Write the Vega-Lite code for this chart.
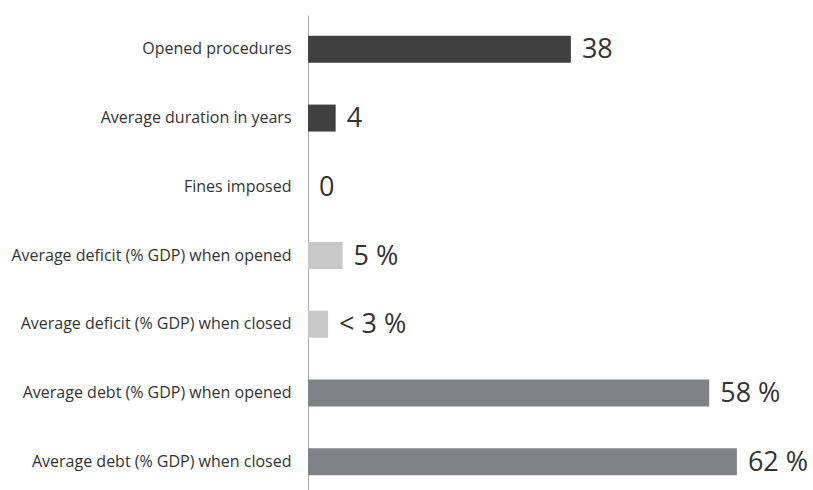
{
  "$schema": "https://vega.github.io/schema/vega-lite/v6.json",
  "autosize": "none",
  "width": 505,
  "height": 481,
  "padding": {"left": 308, "top": 15, "right": 0, "bottom": 0},
  "background": "white",
  "config": {"view": {"stroke": null}},
  "data": {
    "values": [
      {"item": "Opened procedures", "value": 38, "label": "38", "group": "procedures"},
      {"item": "Average duration in years", "value": 4, "label": "4", "group": "procedures"},
      {"item": "Fines imposed", "value": 0, "label": "0", "group": "procedures"},
      {"item": "Average deficit (% GDP) when opened", "value": 5, "label": "5 %", "group": "deficit"},
      {"item": "Average deficit (% GDP) when closed", "value": 2.9, "label": "< 3 %", "group": "deficit"},
      {"item": "Average debt (% GDP) when opened", "value": 58, "label": "58 %", "group": "debt"},
      {"item": "Average debt (% GDP) when closed", "value": 62, "label": "62 %", "group": "debt"}
    ]
  },
  "encoding": {
    "y": {
      "field": "item",
      "type": "nominal",
      "sort": null,
      "scale": {"paddingInner": 0.607, "paddingOuter": 0.3035},
      "axis": {
        "title": null,
        "ticks": false,
        "domainColor": "#aaaaaa",
        "domainWidth": 1,
        "labelFont": "Open Sans",
        "labelFontSize": 16,
        "labelColor": "#333333",
        "labelPadding": 17,
        "labelLimit": 400
      }
    },
    "x": {
      "field": "value",
      "type": "quantitative",
      "scale": {"domain": [0, 73], "nice": false},
      "axis": null
    }
  },
  "layer": [
    {
      "mark": {"type": "bar"},
      "encoding": {
        "color": {
          "field": "group",
          "type": "nominal",
          "scale": {"domain": ["procedures", "deficit", "debt"], "range": ["#404040", "#c8c8c8", "#808184"]},
          "legend": null
        }
      }
    },
    {
      "mark": {"type": "text", "align": "left", "baseline": "middle", "dx": 11, "dy": 1, "font": "Open Sans", "fontSize": 27, "color": "#333333"},
      "encoding": {"text": {"field": "label"}}
    }
  ]
}
